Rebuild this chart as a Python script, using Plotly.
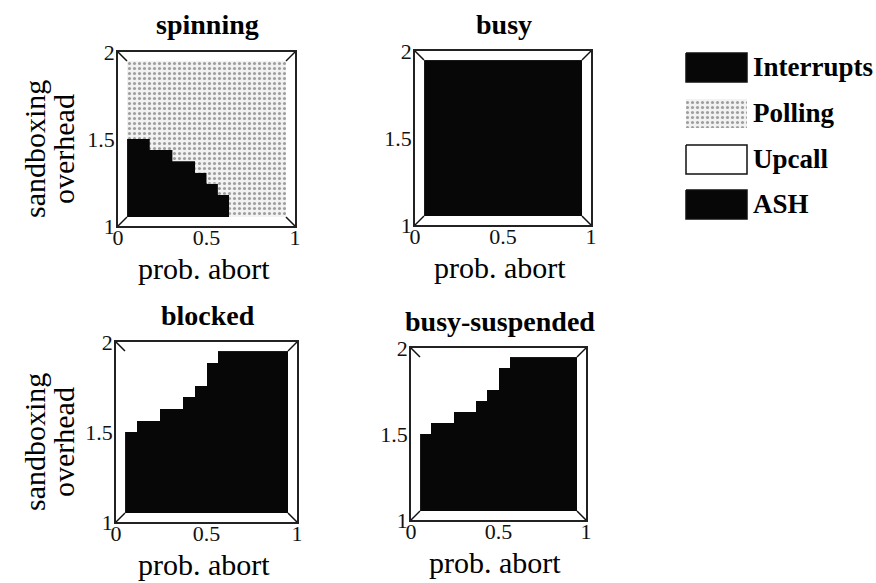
import plotly.graph_objects as go

W, H = 876, 583
SERIF = "Liberation Serif, Times New Roman, serif"

# grid of the parameter sweep (cell centres)
prob_abort = [0.036, 0.107, 0.179, 0.250, 0.321, 0.393, 0.464,
              0.536, 0.607, 0.679, 0.750, 0.821, 0.893, 0.964]
sandbox_overhead = [1.036, 1.107, 1.179, 1.250, 1.321, 1.393, 1.464,
                    1.536, 1.607, 1.679, 1.750, 1.821, 1.893, 1.964]

strategies = ["Interrupts", "Polling", "Upcall", "ASH"]
strategy_colors = ["#070707", "#d4d4d4", "#ffffff", "#070707"]

# per prob. abort column: overhead below which the "low" strategy wins
spinning_boundary = [1.500, 1.500, 1.429, 1.429, 1.357, 1.357, 1.286,
                     1.214, 1.143, 1.000, 1.000, 1.000, 1.000, 1.000]
busy_boundary = [2.0] * 14
blocked_boundary = [1.500, 1.571, 1.571, 1.643, 1.643, 1.714, 1.786,
                    1.929, 2.000, 2.000, 2.000, 2.000, 2.000, 2.000]
busy_suspended_boundary = [1.500, 1.571, 1.571, 1.643, 1.643, 1.714, 1.786,
                           1.929, 2.000, 2.000, 2.000, 2.000, 2.000, 2.000]

panels = [
    # title, boundary, strategy below, strategy above
    ("spinning", spinning_boundary, "ASH", "Polling"),
    ("busy", busy_boundary, "Interrupts", "Polling"),
    ("blocked", blocked_boundary, "Interrupts", "Upcall"),
    ("busy-suspended", busy_suspended_boundary, "Interrupts", "Upcall"),
]

# frame boxes in pixels: left, right, top, bottom
frames = [(118, 295, 52, 226), (415, 591, 51, 225),
          (116, 297, 342, 522), (411, 586, 348, 520)]
INSET = 9

# stipple used for the Polling region
STIPPLE = dict(shape=".", bgcolor="#f2f2f2", fgcolor="#4a4a4a",
               size=5, solidity=0.3)


def px(x):
    return x / W


def py(y):
    return 1 - y / H


def axid(i):
    return "" if i == 1 else str(i)


# cell edges along prob. abort
abort_edges = [0.0] + [(a + b) / 2 for a, b in zip(prob_abort, prob_abort[1:])] + [1.0]

n = len(strategies)
colorscale = []
for k, c in enumerate(strategy_colors):
    colorscale.append([k / n, c])
    colorscale.append([(k + 1) / n, c])

fig = go.Figure()
layout = {}
shapes = []
annotations = []

for p, ((title, boundary, low, high), (l, r, t, b)) in enumerate(zip(panels, frames)):
    fa = axid(2 * p + 1)   # outer box with ticks
    da = axid(2 * p + 2)   # surface
    z = [[strategies.index(low if ov < bnd else high) for bnd in boundary]
         for ov in sandbox_overhead]
    fig.add_trace(go.Heatmap(
        x=prob_abort, y=sandbox_overhead, z=z,
        zmin=-0.5, zmax=n - 0.5, colorscale=colorscale, showscale=False,
        xaxis=f"x{da}", yaxis=f"y{da}", hoverinfo="skip"))

    # stippled overlay on the region where Polling wins
    if high == "Polling" and min(boundary) < 2.0:
        xs, ys = [0.0, 1.0], [2.0, 2.0]
        for i in range(len(boundary) - 1, -1, -1):
            xs += [abort_edges[i + 1], abort_edges[i]]
            ys += [boundary[i], boundary[i]]
        fig.add_trace(go.Scatter(
            x=xs, y=ys, mode="none", fill="toself", fillcolor="#f2f2f2",
            fillpattern=STIPPLE, xaxis=f"x{da}", yaxis=f"y{da}",
            hoverinfo="skip", showlegend=False))

    # empty trace so the outer box subplot is laid out
    fig.add_trace(go.Scatter(x=[None], y=[None], mode="markers",
                             xaxis=f"x{fa}", yaxis=f"y{fa}",
                             hoverinfo="skip", showlegend=False))

    axfont = dict(family=SERIF, size=22, color="#111")
    layout[f"xaxis{fa}"] = dict(
        visible=True, automargin=False, ticklabelstandoff=-9,
        domain=[px(l), px(r)], anchor=f"y{fa}", range=[0, 1],
        tickvals=[0, 0.5, 1], ticktext=["0", "0.5", "1"], ticks="",
        showline=True, mirror=True, linecolor="#222", linewidth=1.5,
        showgrid=False, zeroline=False, tickfont=axfont, fixedrange=True)
    layout[f"yaxis{fa}"] = dict(
        visible=True, automargin=False, ticklabelstandoff=-3,
        domain=[py(b), py(t)], anchor=f"x{fa}", range=[1, 2],
        tickvals=[1, 1.5, 2], ticktext=["1", "1.5", "2"], ticks="",
        showline=True, mirror=True, linecolor="#222", linewidth=1.5,
        showgrid=False, zeroline=False, tickfont=axfont, fixedrange=True)
    layout[f"xaxis{da}"] = dict(
        domain=[px(l + INSET), px(r - INSET)], anchor=f"y{da}",
        range=[0, 1], visible=False, automargin=False, fixedrange=True)
    layout[f"yaxis{da}"] = dict(
        domain=[py(b - INSET), py(t + INSET)], anchor=f"x{da}",
        range=[1, 2], visible=False, automargin=False, fixedrange=True)

    # bevel lines joining the outer box to the surface corners
    for (ox, oy, ix, iy) in [(l, t, l + INSET, t + INSET),
                             (r, t, r - INSET, t + INSET),
                             (l, b, l + INSET, b - INSET),
                             (r, b, r - INSET, b - INSET)]:
        shapes.append(dict(type="line", xref="paper", yref="paper",
                           x0=px(ox), y0=py(oy), x1=px(ix), y1=py(iy),
                           line=dict(color="#111", width=1.5)))

    cx = (l + r) / 2
    annotations.append(dict(text=f"<b>{title}</b>", x=px(cx + 1), y=py(t - 27),
                            xref="paper", yref="paper", showarrow=False,
                            xanchor="center", yanchor="middle",
                            font=dict(family=SERIF, size=28, color="#000")))
    annotations.append(dict(text="prob. abort", x=px(cx - 3), y=py(b + 42),
                            xref="paper", yref="paper", showarrow=False,
                            xanchor="center", yanchor="middle",
                            font=dict(family=SERIF, size=30, color="#000")))
    if p % 2 == 0:
        ymid = (t + b) / 2 + 10
        for text, xx in [("sandboxing", 34), ("overhead", 63)]:
            annotations.append(dict(text=text, x=px(xx), y=py(ymid),
                                    xref="paper", yref="paper", showarrow=False,
                                    textangle=-90, xanchor="center",
                                    yanchor="middle",
                                    font=dict(family=SERIF, size=30, color="#000")))

# legend: swatches drawn on their own pixel-scaled axes, bold labels beside
LA = "9"
layout[f"xaxis{LA}"] = dict(domain=[px(680), px(760)], anchor=f"y{LA}",
                            range=[680, 760], visible=False, automargin=False,
                            fixedrange=True)
layout[f"yaxis{LA}"] = dict(domain=[py(225), py(45)], anchor=f"x{LA}",
                            range=[225, 45], visible=False, automargin=False,
                            fixedrange=True)
legend_rows = [53, 99, 145, 190]
for name, color, top in zip(strategies, strategy_colors, legend_rows):
    sx = [686, 747, 747, 686, 686]
    sy = [top, top, top + 29, top + 29, top]
    if name == "Polling":
        fig.add_trace(go.Scatter(
            x=sx, y=sy, mode="none", fill="toself", fillcolor="#f2f2f2",
            fillpattern=STIPPLE, xaxis=f"x{LA}", yaxis=f"y{LA}",
            hoverinfo="skip", showlegend=False))
    else:
        fig.add_trace(go.Scatter(
            x=sx, y=sy, mode="lines", fill="toself", fillcolor=color,
            line=dict(color="#111", width=1.5), xaxis=f"x{LA}",
            yaxis=f"y{LA}", hoverinfo="skip", showlegend=False))
    annotations.append(dict(text=f"<b>{name}</b>", x=px(751), y=py(top + 14),
                            xref="paper", yref="paper", showarrow=False,
                            xanchor="left", yanchor="middle",
                            font=dict(family=SERIF, size=27, color="#000")))

fig.update_layout(
    width=W, height=H, margin=dict(l=0, r=0, t=0, b=0, autoexpand=False),
    paper_bgcolor="white", plot_bgcolor="rgba(0,0,0,0)",
    showlegend=False, shapes=shapes, annotations=annotations, **layout)

fig.write_html("out.html")
